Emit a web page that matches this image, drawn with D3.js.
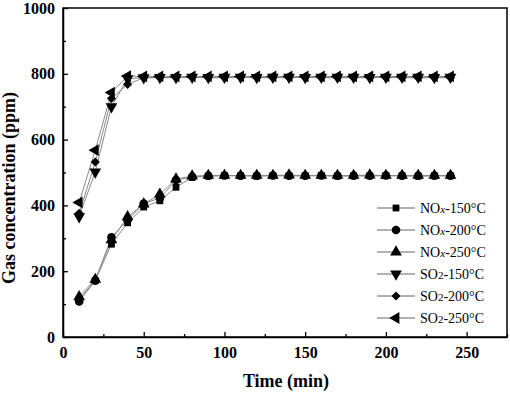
<!DOCTYPE html>
<html>
<head>
<meta charset="utf-8">
<script src="https://cdn.jsdelivr.net/npm/d3@7"></script>
<style>
  body { margin: 0; background: #fff; }
  text { font-family: "Liberation Serif", "Times New Roman", serif; }
</style>
</head>
<body>
<div id="chart"></div>
<script>
// time points (min)
const times = [10, 20, 30, 40, 50, 60, 70, 80, 90, 100, 110, 120, 130, 140, 150, 160, 170, 180, 190, 200, 210, 220, 230, 240];

// gas concentration (ppm)
const nox150 = [115, 172, 282, 347, 395, 414, 455, 485, 489, 490, 490, 489, 490, 490, 490, 490, 489, 490, 490, 490, 490, 489, 490, 490];
const nox200 = [108, 171, 303, 355, 406, 422, 477, 487, 490, 491, 490, 490, 491, 490, 490, 491, 490, 490, 490, 491, 490, 490, 490, 490];
const nox250 = [122, 175, 295, 365, 404, 434, 480, 489, 491, 491, 491, 491, 491, 492, 491, 491, 491, 491, 492, 491, 491, 491, 491, 491];
const so2150 = [366, 502, 700, 785, 788, 789, 789, 790, 789, 790, 790, 789, 790, 790, 789, 790, 790, 790, 789, 790, 790, 790, 789, 790];
const so2200 = [376, 532, 725, 768, 788, 788, 788, 789, 788, 788, 789, 788, 788, 788, 789, 788, 788, 788, 788, 789, 788, 788, 788, 788];
const so2250 = [409, 568, 743, 793, 792, 792, 792, 792, 792, 792, 792, 792, 792, 792, 792, 792, 792, 792, 792, 792, 792, 792, 792, 792];

const seriesNames = ["NOx-150°C", "NOx-200°C", "NOx-250°C", "SO2-150°C", "SO2-200°C", "SO2-250°C"];
const seriesValues = [nox150, nox200, nox250, so2150, so2200, so2250];

const xTicks = [0, 50, 100, 150, 200, 250];
const yTicks = [0, 200, 400, 600, 800, 1000];

const W = 510, H = 394;
const M = { top: 8, right: 3, bottom: 57, left: 63 };

const svg = d3.select("#chart").append("svg")
  .attr("width", W).attr("height", H);

const x = d3.scaleLinear().domain([0, 275]).range([M.left, W - M.right]);
const y = d3.scaleLinear().domain([0, 1000]).range([H - M.bottom, M.top]);

// frame
svg.append("rect")
  .attr("x", M.left).attr("y", M.top)
  .attr("width", W - M.right - M.left).attr("height", H - M.bottom - M.top)
  .attr("fill", "none").attr("stroke", "#000").attr("stroke-width", 1.5);

// minor ticks
svg.append("g")
  .attr("transform", `translate(0,${H - M.bottom})`)
  .call(d3.axisBottom(x).tickValues([25, 75, 125, 175, 225, 275]).tickSize(-3).tickFormat(""))
  .call(g => g.select(".domain").remove());
svg.append("g")
  .attr("transform", `translate(${M.left},0)`)
  .call(d3.axisLeft(y).tickValues([100, 300, 500, 700, 900]).tickSize(-3).tickFormat(""))
  .call(g => g.select(".domain").remove());

// major ticks
const xAxis = svg.append("g")
  .attr("transform", `translate(0,${H - M.bottom})`)
  .call(d3.axisBottom(x).tickValues(xTicks).tickFormat(d3.format("d"))
    .tickSizeInner(-5).tickSizeOuter(0).tickPadding(10));
const yAxis = svg.append("g")
  .attr("transform", `translate(${M.left},0)`)
  .call(d3.axisLeft(y).tickValues(yTicks).tickFormat(d3.format("d"))
    .tickSizeInner(-5).tickSizeOuter(0).tickPadding(8));

[xAxis, yAxis].forEach(g => {
  g.select(".domain").attr("stroke-width", 1.5);
  g.selectAll("text")
    .attr("font-family", "Liberation Serif")
    .attr("font-size", 16)
    .attr("font-weight", "bold")
    .attr("fill", "#000");
});
svg.selectAll(".tick line").attr("stroke-width", 1.3);

// axis titles
svg.append("text")
  .attr("x", 286)
  .attr("y", 387)
  .attr("text-anchor", "middle")
  .attr("font-size", 18).attr("font-weight", "bold")
  .text("Time (min)");

svg.append("text")
  .attr("transform", "translate(15,188) rotate(-90)")
  .attr("text-anchor", "middle")
  .attr("font-size", 18).attr("font-weight", "bold")
  .text("Gas concentration (ppm)");

// marker shapes
const markers = [
  { type: d3.symbolSquare, size: 46, rot: 0 },
  { type: d3.symbolCircle, size: 58, rot: 0 },
  { type: d3.symbolTriangle, size: 60, rot: 0 },
  { type: d3.symbolTriangle, size: 60, rot: 180 },
  { type: d3.symbolSquare, size: 42, rot: 45 },
  { type: d3.symbolTriangle, size: 60, rot: -90 }
];

const line = d3.line().x(d => x(d[0])).y(d => y(d[1]));

seriesValues.forEach((vals, i) => {
  const pts = times.map((t, j) => [t, vals[j]]);
  svg.append("path")
    .datum(pts)
    .attr("d", line)
    .attr("fill", "none")
    .attr("stroke", "#8a8a8a")
    .attr("stroke-width", 1);
});

seriesValues.forEach((vals, i) => {
  const m = markers[i];
  const sym = d3.symbol().type(m.type).size(m.size);
  svg.append("g").selectAll("path")
    .data(times.map((t, j) => [t, vals[j]]))
    .join("path")
    .attr("d", sym)
    .attr("transform", d => `translate(${x(d[0])},${y(d[1])}) rotate(${m.rot})`)
    .attr("fill", "#000");
});

// legend
const legend = svg.append("g");
const legY = [208, 230, 252, 274, 296, 318];
seriesNames.forEach((name, i) => {
  const ly = legY[i];
  legend.append("line")
    .attr("x1", 377).attr("x2", 415).attr("y1", ly).attr("y2", ly)
    .attr("stroke", "#666").attr("stroke-width", 1);
  const m = markers[i];
  legend.append("path")
    .attr("d", d3.symbol().type(m.type).size(m.size))
    .attr("transform", `translate(396,${ly}) rotate(${m.rot})`)
    .attr("fill", "#000");
  const t = legend.append("text")
    .attr("x", 420).attr("y", ly + 5)
    .attr("font-size", 14);
  if (name.startsWith("NOx")) {
    t.append("tspan").text("NO");
    t.append("tspan").attr("font-style", "italic").attr("font-size", 11).text("x");
    t.append("tspan").text(name.slice(3));
  } else {
    t.append("tspan").text("SO");
    t.append("tspan").attr("font-size", 11).text("2");
    t.append("tspan").text(name.slice(3));
  }
});
</script>
</body>
</html>
